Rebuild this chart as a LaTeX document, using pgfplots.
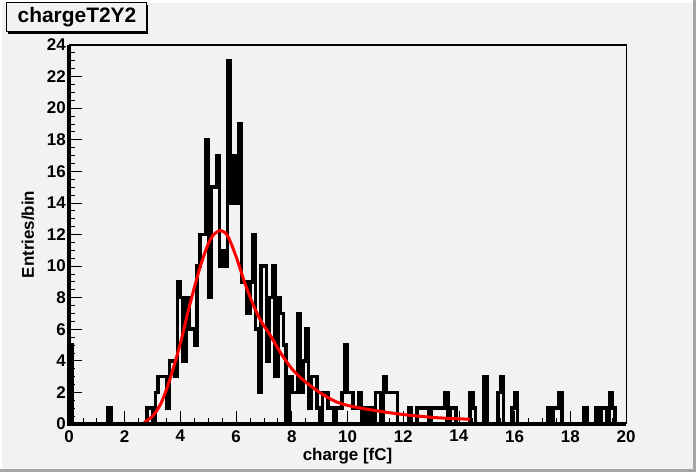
\documentclass[border=0pt]{standalone}
\usepackage{fontspec}
\setmainfont{Liberation Sans}
\usepackage{pgfplots}
\pgfplotsset{compat=1.18}
\definecolor{bgc}{RGB}{242,242,242}
\definecolor{bevel}{RGB}{165,165,165}
\begin{document}
\begin{tikzpicture}
\fill[bgc] (0,0) rectangle (696bp,472bp);
\fill[bevel] (0,0) rectangle (696bp,3bp);
\fill[bevel] (693bp,0) rectangle (696bp,472bp);
\fill[white] (0,469bp) rectangle (693bp,472bp);
\fill[white] (0,3bp) rectangle (2bp,472bp);
% title box
\fill[black] (8bp,438bp) rectangle (148bp,467bp);
\filldraw[fill=bgc,draw=black,line width=1bp] (6bp,440bp) rectangle (146bp,469bp);
\node[font=\fontsize{21}{21}\selectfont\bfseries,inner sep=0] at (77bp,455bp) {chargeT2Y2};
\begin{axis}[
  at={(69bp,48bp)}, anchor=south west,
  scale only axis, width=557bp, height=379bp,
  xmin=0, xmax=20, ymin=0, ymax=24,
  xtick={0,2,...,20}, ytick={0,2,...,24},
  minor x tick num=3, minor y tick num=3,
  xtick pos=bottom, ytick pos=left,
  tick align=inside,
  major tick length=13bp, minor tick length=6bp,
  tick style={black, line width=0.8bp},
  axis line style={line width=1bp},
  axis background/.style={fill=bgc},
  clip=false,
  /pgf/number format/assume math mode=true,
  ticklabel style={font=\fontsize{17}{17}\selectfont\bfseries},
  xticklabel style={inner sep=0, yshift=-6bp},
  yticklabel style={inner sep=0, xshift=-3bp},
  xlabel={charge [fC]}, ylabel={Entries/bin},
  label style={font=\fontsize{17}{17}\selectfont\bfseries},
  xlabel style={at={(axis description cs:0.5,0)}, anchor=north, inner sep=0, yshift=-24bp},
  ylabel style={at={(axis description cs:-0.0736,0.5)}, anchor=center, inner sep=0},
  after end axis/.code={
    \draw[line width=3bp] (rel axis cs:0,1) -- (rel axis cs:0,0) -- (rel axis cs:1,0);
    \draw[line width=2bp] (rel axis cs:0,1) -- (rel axis cs:1,1);
  },
]
\addplot[const plot, black, line width=3.5bp, line join=miter] coordinates {
(0,5)(0.1,0)(1.4,1)(1.5,0)(2.8,1)(2.9,1)(3.0,0)(3.1,2)(3.2,3)(3.3,3)(3.4,3)(3.5,1)(3.6,4)(3.7,4)(3.8,3)(3.9,9)
(4.0,8)(4.1,4)(4.2,8)(4.3,6)(4.4,6)(4.5,5)(4.6,10)(4.7,12)(4.8,12)(4.9,18)
(5.0,8)(5.1,15)(5.2,15)(5.3,17)(5.4,10)(5.5,11)(5.6,10)(5.7,23)(5.8,14)(5.9,17)
(6.0,14)(6.1,19)(6.2,9)(6.3,9)(6.4,7)(6.5,9)(6.6,12)(6.7,6)(6.8,2)(6.9,10)
(7.0,10)(7.1,4)(7.2,8)(7.3,10)(7.4,3)(7.5,8)(7.6,7)(7.7,5)(7.8,0)(7.9,3)
(8.0,2)(8.1,2)(8.2,7)(8.3,2)(8.4,4)(8.5,6)(8.6,1)(8.7,3)(8.8,3)(8.9,1)
(9.0,0)(9.1,2)(9.2,2)(9.3,1)(9.4,1)(9.5,0)(9.6,1)(9.7,1)(9.8,2)(9.9,5)
(10.0,2)(10.1,2)(10.2,1)(10.3,1)(10.4,2)(10.5,0)(10.6,1)(10.7,0)(10.8,1)(10.9,0)
(11.0,2)(11.1,2)(11.2,0)(11.3,3)(11.4,2)(11.5,2)(11.6,2)(11.7,2)(11.8,0)
(12.2,1)(12.3,0)(12.5,1)(12.6,1)(12.7,1)(12.8,1)(12.9,0)
(13.0,1)(13.1,1)(13.2,1)(13.3,1)(13.4,1)(13.5,2)(13.6,0)(13.7,1)(13.8,1)(13.9,0)
(14.4,2)(14.5,1)(14.6,0)(14.9,3)(15.0,0)(15.4,2)(15.5,3)(15.6,0)(15.9,1)(16.0,2)(16.1,0)
(17.2,1)(17.3,0)(17.4,1)(17.5,1)(17.6,2)(17.7,0)(18.5,1)(18.6,0)(18.9,1)(19.0,0)
(19.1,1)(19.2,1)(19.3,0)(19.4,2)(19.5,1)(19.6,0)(20,0)
};
\addplot[red, line width=3bp, smooth] coordinates {
(2.7,0.1)(3.0,0.5)(3.3,1.3)(3.6,2.7)(4.0,5.1)(4.3,7.3)(4.7,9.9)(5.0,11.4)(5.2,12.0)(5.45,12.25)
(5.7,11.9)(6.0,10.6)(6.3,9.0)(6.6,7.6)(6.9,6.5)(7.2,5.7)(7.6,4.5)(8.0,3.5)(8.4,2.8)(9.0,2.0)
(9.6,1.4)(10.2,1.1)(11.0,0.85)(12.0,0.6)(13.2,0.4)(14.4,0.3)
};
\end{axis}
\end{tikzpicture}
\end{document}
